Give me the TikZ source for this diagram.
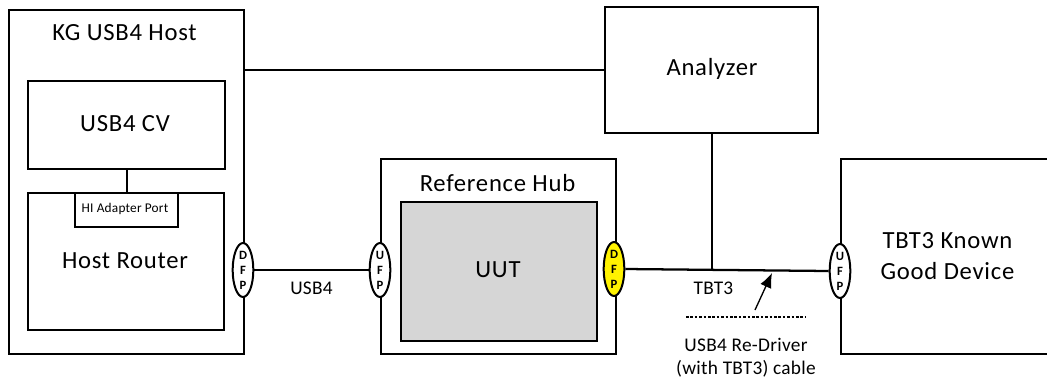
\documentclass[tikz,border=0pt]{standalone}
\usepackage{fontspec}
\setmainfont{Carlito}
\newfontfamily\spaced[LetterSpace=3]{Carlito}
\newfontfamily\spacedsm[LetterSpace=1.5]{Carlito}
\usetikzlibrary{arrows.meta,shapes.geometric,positioning}
\tikzset{
  x=0.75pt,y=-0.75pt,
  box/.style={draw=black,line width=1.7pt,fill=white,minimum width=#1,inner sep=0pt},
  conn/.style={draw=black,line width=1.7pt},
  port/.style={draw=black,line width=1.5pt,fill=white,ellipse,minimum width=15.5pt,minimum height=40.5pt,inner sep=0pt,
    align=center,font=\fontsize{9.5}{11.2}\selectfont\bfseries},
  lbl/.style={font=\spacedsm\fontsize{14.5}{16}\selectfont,align=center,inner sep=0pt},
  big/.style={font=\spaced\fontsize{18.5}{23}\selectfont,align=center,inner sep=0pt},
}
\newcommand{\rect}[6]{\node[box=0pt,minimum width=#4*0.75pt-#2*0.75pt,minimum height=#5*0.75pt-#3*0.75pt,#6,anchor=north west] (#1) at (#2,#3) {};}
\begin{document}
\begin{tikzpicture}
\useasboundingbox (0,0) rectangle (1047,380);
\rect{host}{8}{9}{243}{353}{}
\rect{cv}{27}{80}{224}{168}{}
\rect{router}{27}{192}{223}{329}{}
\rect{hub}{380}{158}{615}{353}{}
\rect{uut}{400}{201}{596}{340}{fill={rgb,255:red,214;green,214;blue,214}}
\rect{analyzer}{604}{6}{817}{131.5}{}
\rect{dev}{840}{158}{1060}{353}{}
\rect{hi}{74}{192}{177}{226}{}
\coordinate (hostr) at (243,70);
\coordinate (anal) at (604,70);
\coordinate (tap) at (712,270);
\coordinate (arrS) at (755,310);
\coordinate (arrE) at (772,273);
\coordinate (dashS) at (686,317);
\coordinate (dashE) at (806,317);
\node[port] (p1) at (243,270) {D\\F\\P};
\node[port] (p2) at (380,270) {U\\F\\P};
\node[port,fill=yellow] (p3) at (614,269) {D\\F\\P};
\node[port] (p4) at (840,271) {U\\F\\P};
\draw[conn] (hostr) -- (anal);
\draw[conn] (cv.south -| hi.north) -- (hi.north);
\draw[conn] (p1) -- (p2);
\draw[conn] (p3.east) -- (p4.west);
\draw[conn] (analyzer.south -| tap) -- (tap);
\draw[line width=1pt,-{Latex[length=11pt,width=9pt]}] (arrS) -- (arrE);
\draw[line width=0.9pt,dash pattern=on 2pt off 1.3pt] (dashS) -- (dashE);
\node[big] (t1) at (124.5,33) {KG USB4 Host};
\node[big] (t2) at (125,124) {USB4 CV};
\node[big] (t3) at (125,261) {Host Router};
\node[font=\spacedsm\fontsize{10}{10}\selectfont,inner sep=0pt] (t4) at (125,209) {HI Adapter Port};
\node[lbl] (t5) at (311.5,288) {USB4};
\node[big] (t6) at (497.5,183) {Reference Hub};
\node[big] (t7) at (498,270) {UUT};
\node[big] (t8) at (712,69) {Analyzer};
\node[lbl] (t9) at (713.5,288) {TBT3};
\node[big] (t10) at (947.5,256) {TBT3 Known\\Good Device};
\node[font=\spacedsm\fontsize{14.5}{17}\selectfont,align=center,inner sep=0pt] (t11) at (746,357.5) {USB4 Re-Driver\\(with TBT3) cable};
\end{tikzpicture}
\end{document}
